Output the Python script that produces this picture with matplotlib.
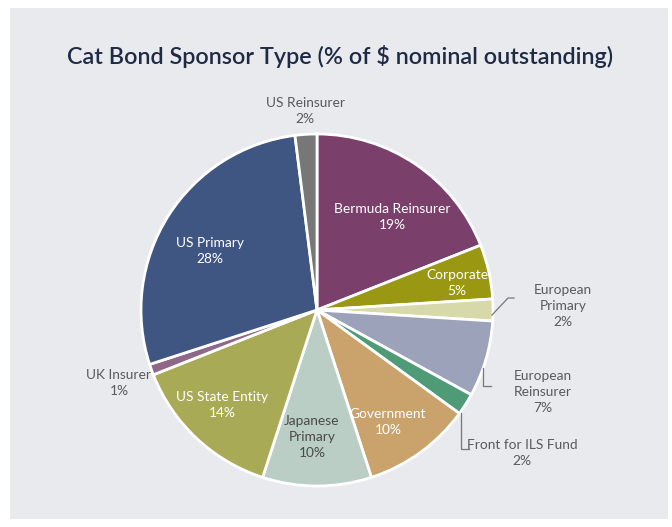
import matplotlib
matplotlib.use("Agg")
import matplotlib.pyplot as plt
from matplotlib.patches import Rectangle

categories = ["Bermuda Reinsurer", "Corporate", "European Primary", "European Reinsurer",
              "Front for ILS Fund", "Government", "Japanese Primary", "US State Entity",
              "UK Insurer", "US Primary", "US Reinsurer"]
values = [19, 5, 2, 7, 2, 10, 10, 14, 1, 28, 2]
colors = ["#7b3f6c", "#9a9812", "#d7d9aa", "#9ca2ba", "#4f9b78", "#c9a36b",
          "#bacec5", "#a9aa56", "#8f6789", "#3f5683", "#777777"]
label_text = ["Bermuda Reinsurer", "Corporate", "European\nPrimary", "European\nReinsurer",
              "Front for ILS Fund", "Government", "Japanese\nPrimary", "US State Entity",
              "UK Insurer", "US Primary", "US Reinsurer"]

W, H = 672, 527
fig = plt.figure(figsize=(W / 100, H / 100), dpi=100)
fig.patch.set_facecolor("white")
fig.add_artist(Rectangle((10 / W, 8 / H), 658 / W, (519 - 8) / H, transform=fig.transFigure,
                         facecolor="#e9eaee", edgecolor="none", zorder=0))

fig.text(340 / W, 1 - 57 / H, "Cat Bond Sponsor Type (% of $ nominal outstanding)",
         ha="center", va="center", fontsize=16.8, fontweight="semibold",
         color="#1f2b45", family="Lato")

cx, cy, r = 317, 310, 176
ax = fig.add_axes([(cx - r) / W, (H - cy - r) / H, 2 * r / W, 2 * r / H])

ax.pie(values, colors=colors, startangle=90, counterclock=False, radius=1,
       wedgeprops=dict(edgecolor="white", linewidth=2))
ax.set_xlim(-1, 1)
ax.set_ylim(-1, 1)
ax.set_aspect("equal")
ax.axis("off")

def p(px, py):
    return ((px - cx) / r, (cy - py) / r)

# label placement (layout), per category
pos = {
    "Bermuda Reinsurer": (392, 217, "white"),
    "Corporate": (457, 283, "white"),
    "European Primary": (563, 306, "#5a5a5a"),
    "European Reinsurer": (543, 392, "#5a5a5a"),
    "Front for ILS Fund": (522, 453, "#5a5a5a"),
    "Government": (388, 422, "white"),
    "Japanese Primary": (312, 437, "#4a4a4a"),
    "US State Entity": (222, 405, "white"),
    "UK Insurer": (119, 383, "#5a5a5a"),
    "US Primary": (210, 251, "white"),
    "US Reinsurer": (305, 111, "#5a5a5a"),
}
for cat, txt, v in zip(categories, label_text, values):
    px, py, col = pos[cat]
    x, y = p(px, py)
    ax.text(x, y, f"{txt}\n{v}%", ha="center", va="center", color=col, fontsize=9.9,
            family="Lato", linespacing=1.4, clip_on=False)

# leader lines
def line(pts):
    xs, ys = zip(*[p(a, b) for a, b in pts])
    ax.plot(xs, ys, color="#777777", lw=0.9, clip_on=False)

line([(492, 315), (508, 298), (514, 298)])
line([(483, 368), (483, 386), (491, 386)])
line([(461, 413), (461, 449), (469, 449)])

fig.savefig("out.png", dpi=100, facecolor="white")
